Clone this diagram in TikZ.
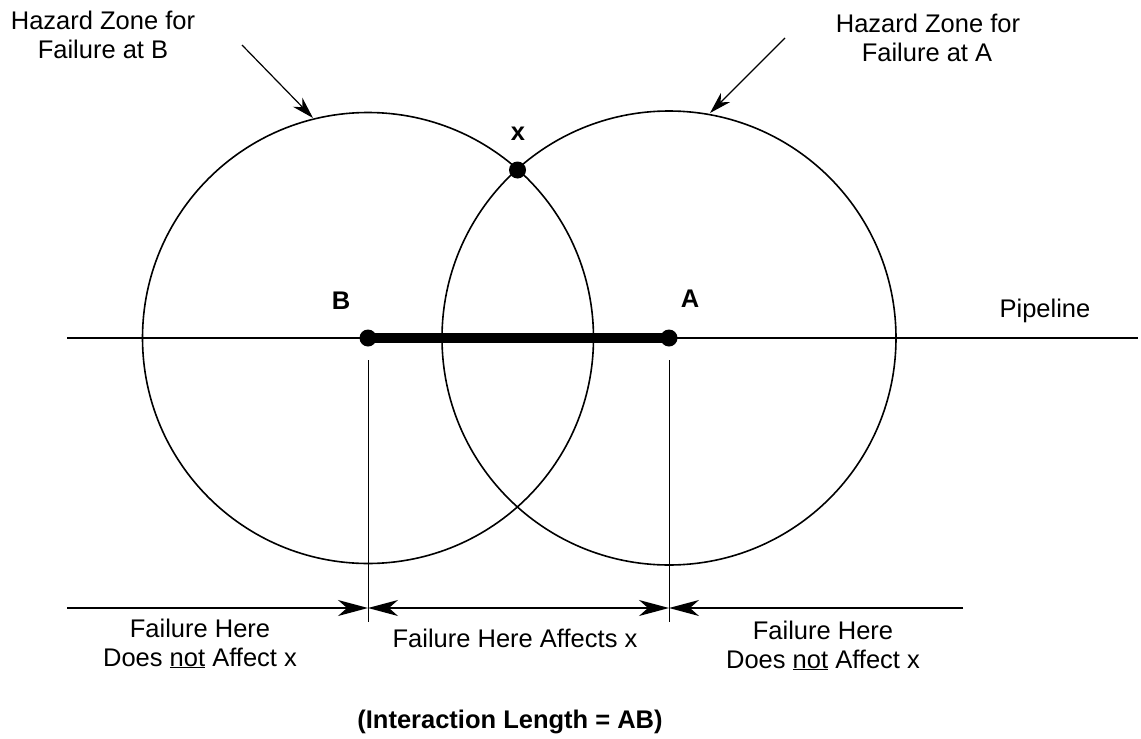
\documentclass[tikz,border=0pt]{standalone}
\usepackage{fontspec}
\setmainfont{Liberation Sans}
\usetikzlibrary{arrows.meta}
\begin{document}
\begin{tikzpicture}[x=1pt,y=-1pt,
  lbl/.style={font=\fontsize{25.5}{29}\selectfont, inner sep=0pt, anchor=base},
  boldlbl/.style={font=\fontsize{25.5}{29}\selectfont\bfseries, inner sep=0pt, anchor=base},
  zone/.style={line width=1.6pt},
  pipe/.style={line width=2pt},
  seg/.style={line width=10pt},
  dot/.style={circle, fill=black, inner sep=0pt, minimum size=17pt},
  tickline/.style={line width=1pt},
  dim/.style={line width=1.4pt},
  ptr/.style={line width=1.2pt, -{Stealth[length=22pt,width=13pt,inset=7pt]}}
]
\useasboundingbox (0,0) rectangle (1141,739);
% centres
\coordinate (B) at (368,338);
\coordinate (A) at (669,338);
% hazard zones
\draw[zone] (B) circle[radius=225.5];
\draw[zone] (A) circle[radius=227];
% pipeline
\coordinate (P0) at (67,338);
\coordinate (P1) at (1138,338);
\draw[pipe] (P0) -- (P1);
\draw[seg] (B) -- (A);
\node[dot] (Bd) at (B) {};
\node[dot] (Ad) at (A) {};
\node[dot] (X) at (517.5,170) {};
% labels
\node[boldlbl] (lB) at (341,309) {B};
\node[boldlbl] (lA) at (690,307) {A};
\node[boldlbl] (lx) at (518,140) {x};
\node[lbl] (lpipe) at (1045,317) {Pipeline};
% hazard zone labels
\node[lbl] (hzb1) at (103,29) {Hazard Zone for};
\node[lbl] (hzb2) at (103,58) {Failure at B};
\node[lbl] (hza1) at (928,32) {Hazard Zone for};
\node[lbl] (hza2) at (927,61) {Failure at A};
\coordinate (hb0) at (242,45);
\coordinate (hb1) at (313,118);
\coordinate (ha0) at (785,38);
\coordinate (ha1) at (710,113);
\draw[ptr] (hb0) -- (hb1);
\draw[ptr] (ha0) -- (ha1);
% vertical ticks
\coordinate (Bt) at (368,360);
\coordinate (Bb) at (368,622);
\coordinate (At) at (669,360);
\coordinate (Ab) at (669,622);
\draw[tickline] (Bt) -- (Bb);
\draw[tickline] (At) -- (Ab);
% dimension lines
\coordinate (L0) at (67,608);
\coordinate (DB) at (368,608);
\coordinate (DA) at (669,608);
\coordinate (R0) at (963,608);
\draw[dim, -{Stealth[length=30pt,width=16pt,inset=9pt]}] (L0) -- (DB);
\draw[dim, {Stealth[length=30pt,width=16pt,inset=9pt]}-{Stealth[length=30pt,width=16pt,inset=9pt]}] (DB) -- (DA);
\draw[dim, -{Stealth[length=30pt,width=16pt,inset=9pt]}] (R0) -- (DA);
% bottom texts
\node[lbl] (tl1) at (200,637) {Failure Here};
\node[lbl] (tl2) at (200,666) {Does \underline{not} Affect x};
\node[lbl] (tm) at (515,647) {Failure Here Affects x};
\node[lbl] (tr1) at (823,639) {Failure Here};
\node[lbl] (tr2) at (823,668) {Does \underline{not} Affect x};
\node[boldlbl] (til) at (510,728) {(Interaction Length = AB)};
\end{tikzpicture}
\end{document}
